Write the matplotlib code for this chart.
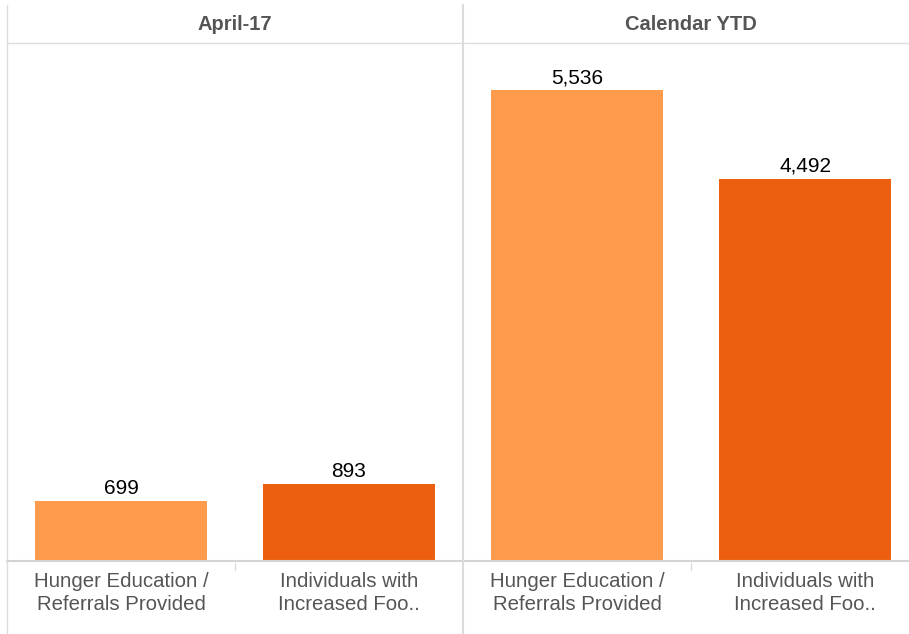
import matplotlib.pyplot as plt
from matplotlib.lines import Line2D

panels = ['April-17', 'Calendar YTD']
categories = ['Hunger Education /\nReferrals Provided', 'Individuals with\nIncreased Foo..']
values = {
    'April-17': [699, 893],
    'Calendar YTD': [5536, 4492],
}
colors = ['#FD9A4C', '#EC5F11']

plt.rcParams['font.family'] = ['Liberation Sans', 'DejaVu Sans']

W, H = 909, 634
fig = plt.figure(figsize=(W / 100, H / 100), dpi=100)
grid_c = '#dcdcdc'

top, base = 43, 560
panel_x = [7, 463]
panel_w = 456

for i, p in enumerate(panels):
    x0 = panel_x[i]
    ax = fig.add_axes([x0 / W, 1 - base / H, panel_w / W, (base - top) / H])
    ax.set_xlim(0, 2)
    ax.set_ylim(0, 6090)
    for j, v in enumerate(values[p]):
        ax.bar(j + 0.5, v, width=0.754, color=colors[j])
        ax.annotate(f'{v:,}', (j + 0.5, v), xytext=(0, 2), textcoords='offset points',
                    ha='center', va='bottom', fontsize=15, color='black')
    ax.set_xticks([])
    ax.set_yticks([])
    for s in ax.spines.values():
        s.set_visible(False)

# grid lines in pixel space
def hline(y, x1, x2, lw=1.0, c=grid_c):
    fig.add_artist(Line2D([x1 / W, x2 / W], [1 - y / H, 1 - y / H],
                          transform=fig.transFigure, color=c, lw=lw))

def vline(x, y1, y2, lw=1.0, c=grid_c):
    fig.add_artist(Line2D([x / W, x / W], [1 - y1 / H, 1 - y2 / H],
                          transform=fig.transFigure, color=c, lw=lw))

hline(top, 7, W)
hline(base + 1, 7, W, lw=1.5, c='#d4d4d4')
vline(7, 5, H)
vline(463, 5, H, lw=1.5)
for x in [235, 691]:
    vline(x, 563, 570)

for i, p in enumerate(panels):
    cx = panel_x[i] + panel_w / 2
    fig.text(cx / W, 1 - 24 / H, p, ha='center', va='center',
             fontsize=14.5, fontweight='bold', color='#555555')
    for j, cat in enumerate(categories):
        lx = panel_x[i] + panel_w * (j + 0.5) / 2
        fig.text(lx / W, 1 - 593 / H, cat, ha='center', va='center',
                 fontsize=14.7, color='#555555', linespacing=1.3)

fig.savefig('out.png', dpi=100)
